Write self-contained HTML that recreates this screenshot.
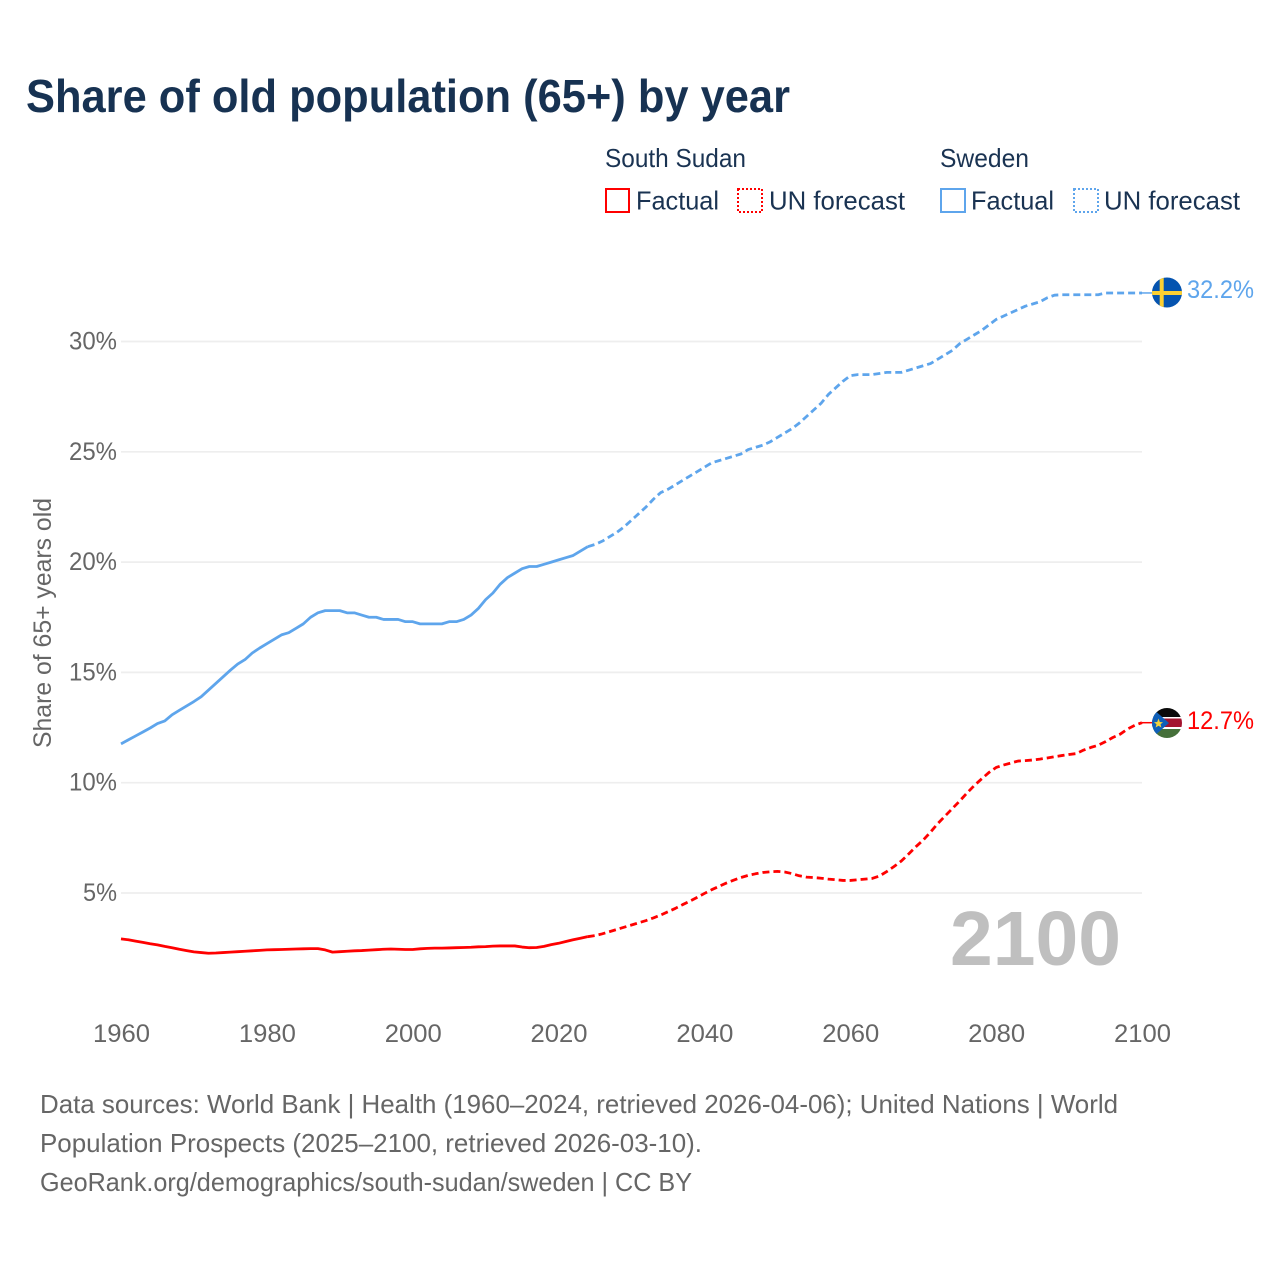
<!DOCTYPE html>
<html lang="en">
<head>
<meta charset="utf-8">
<title>Share of old population (65+) by year</title>
<style>
html,body{margin:0;padding:0;background:#fff;width:1280px;height:1280px;overflow:hidden}
svg{display:block}
text{font-family:"Liberation Sans",sans-serif}
.leg{font-size:26px;fill:#1a3352}
.src{font-size:26px;fill:#666}
.tick{font-size:25px;fill:#666}
</style>
</head>
<body>
<svg id="chart" width="1280" height="1280" viewBox="0 0 1280 1280" xmlns="http://www.w3.org/2000/svg">
  <defs>
    <clipPath id="clip-se"><circle cx="1167" cy="292.5" r="15"/></clipPath>
    <clipPath id="clip-ss"><circle cx="1167" cy="723" r="15"/></clipPath>
  </defs>
  <rect width="1280" height="1280" fill="#fff"/>
  <text x="26" y="112" font-size="46" font-weight="700" style="fill:#173252" textLength="764" lengthAdjust="spacingAndGlyphs">Share of old population (65+) by year</text>

  <g>
    <text class="leg" x="605" y="167" textLength="141" lengthAdjust="spacingAndGlyphs">South Sudan</text>
    <rect x="606" y="189" width="23" height="23" fill="none" stroke="#ff0000" stroke-width="2"/>
    <text class="leg" x="636" y="209.5" textLength="83" lengthAdjust="spacingAndGlyphs">Factual</text>
    <rect x="738" y="189" width="24" height="23" fill="none" stroke="#ff0000" stroke-width="2" stroke-dasharray="2 2"/>
    <text class="leg" x="769" y="209.5" textLength="136" lengthAdjust="spacingAndGlyphs">UN forecast</text>
    <text class="leg" x="940" y="167" textLength="89" lengthAdjust="spacingAndGlyphs">Sweden</text>
    <rect x="941" y="189" width="24" height="23" fill="none" stroke="#5ea5ec" stroke-width="2"/>
    <text class="leg" x="971" y="209.5" textLength="83" lengthAdjust="spacingAndGlyphs">Factual</text>
    <rect x="1074" y="189" width="24" height="23" fill="none" stroke="#5ea5ec" stroke-width="2" stroke-dasharray="2 2"/>
    <text class="leg" x="1104" y="209.5" textLength="136" lengthAdjust="spacingAndGlyphs">UN forecast</text>
  </g>

  <g id="grid"></g>
  <g id="yticks"></g>
  <g id="xticks"></g>
  <text transform="translate(51 623) rotate(-90)" text-anchor="middle" font-size="25" fill="#666" textLength="250" lengthAdjust="spacingAndGlyphs">Share of 65+ years old</text>

  <text x="950" y="965" font-size="77" font-weight="700" fill="#bfbfbf" textLength="171" lengthAdjust="spacingAndGlyphs">2100</text>

  <g id="series"></g>

  <g clip-path="url(#clip-se)">
    <rect x="1152" y="277" width="30" height="31" fill="#0554b0"/>
    <rect x="1159.7" y="277" width="4" height="31" fill="#fcd032"/>
    <rect x="1152" y="291" width="30" height="4" fill="#fcd032"/>
  </g>
  <g clip-path="url(#clip-ss)">
    <rect x="1152" y="708" width="30" height="30" fill="#fff"/>
    <rect x="1152" y="708" width="30" height="9" fill="#0a0a0a"/>
    <rect x="1152" y="718.5" width="30" height="8.5" fill="#a3142f"/>
    <rect x="1152" y="729" width="30" height="9" fill="#45703a"/>
    <polygon points="1152,708 1169,723 1152,738" fill="#0f5fb8"/>
    <polygon points="1158.5,718.5 1159.8,722 1163,722.3 1160.5,724.3 1161.4,727.5 1158.5,725.7 1155.6,727.5 1156.5,724.3 1154,722.3 1157.2,722" fill="#f4d23c"/>
  </g>
  <text x="1187" y="298" font-size="25" fill="#5ea5ec" textLength="67" lengthAdjust="spacingAndGlyphs">32.2%</text>
  <text x="1187" y="729" font-size="25" fill="#ff0000" textLength="67" lengthAdjust="spacingAndGlyphs">12.7%</text>

  <g>
    <text class="src" x="40" y="1113" textLength="1078" lengthAdjust="spacingAndGlyphs">Data sources: World Bank | Health (1960–2024, retrieved 2026-04-06); United Nations | World</text>
    <text class="src" x="40" y="1152" textLength="662" lengthAdjust="spacingAndGlyphs">Population Prospects (2025–2100, retrieved 2026-03-10).</text>
    <text class="src" x="40" y="1191" textLength="652" lengthAdjust="spacingAndGlyphs">GeoRank.org/demographics/south-sudan/sweden | CC BY</text>
  </g>
</svg>
<script>
const xTickYears = [1960, 1980, 2000, 2020, 2040, 2060, 2080, 2100];
const yTickValues = [5, 10, 15, 20, 25, 30];
const factualStartYear = 1960;
const forecastStartYear = 2024;
const swedenFactual = [11.76,11.94,12.12,12.3,12.48,12.68,12.8,13.08,13.28,13.48,13.68,13.9,14.2,14.5,14.8,15.1,15.38,15.58,15.88,16.1,16.3,16.5,16.7,16.8,17.0,17.2,17.5,17.7,17.8,17.8,17.8,17.7,17.7,17.6,17.5,17.5,17.4,17.4,17.4,17.3,17.3,17.2,17.2,17.2,17.2,17.3,17.3,17.4,17.6,17.9,18.3,18.6,19.0,19.3,19.5,19.7,19.8,19.8,19.9,20.0,20.1,20.2,20.3,20.5,20.7];
const swedenForecast = [20.7,20.8,20.95,21.15,21.35,21.6,21.9,22.2,22.5,22.85,23.15,23.3,23.5,23.7,23.9,24.1,24.3,24.5,24.6,24.7,24.8,24.9,25.1,25.2,25.3,25.45,25.65,25.85,26.05,26.3,26.6,26.9,27.2,27.6,27.9,28.2,28.45,28.5,28.5,28.5,28.55,28.6,28.6,28.6,28.7,28.8,28.9,29.0,29.2,29.4,29.6,29.9,30.1,30.3,30.5,30.75,31.0,31.15,31.3,31.45,31.6,31.7,31.8,31.98,32.1,32.12,32.12,32.12,32.12,32.12,32.12,32.2,32.2,32.2,32.2,32.2,32.2];
const southSudanFactual = [2.92,2.88,2.82,2.76,2.7,2.65,2.58,2.52,2.45,2.39,2.33,2.3,2.27,2.28,2.3,2.32,2.34,2.36,2.38,2.4,2.42,2.43,2.44,2.45,2.46,2.47,2.48,2.48,2.42,2.32,2.34,2.36,2.38,2.39,2.41,2.43,2.45,2.46,2.45,2.44,2.44,2.47,2.49,2.5,2.5,2.51,2.52,2.53,2.54,2.56,2.57,2.59,2.6,2.6,2.6,2.55,2.52,2.53,2.58,2.66,2.72,2.8,2.88,2.95,3.02];
const southSudanForecast = [3.02,3.07,3.15,3.25,3.35,3.45,3.55,3.65,3.75,3.87,4.0,4.15,4.3,4.47,4.63,4.8,4.98,5.15,5.3,5.45,5.58,5.7,5.8,5.87,5.93,5.96,5.98,5.95,5.88,5.78,5.72,5.7,5.67,5.63,5.6,5.57,5.57,5.6,5.63,5.66,5.77,5.97,6.2,6.45,6.77,7.1,7.4,7.76,8.15,8.49,8.83,9.17,9.53,9.87,10.17,10.46,10.69,10.8,10.89,10.98,11.0,11.03,11.07,11.12,11.18,11.23,11.28,11.32,11.48,11.6,11.7,11.86,12.05,12.2,12.43,12.6,12.72];

const SVG_NS = 'http://www.w3.org/2000/svg';
function xScale(year) { return 121 + (year - 1960) * (1142 - 121) / 140; }
function yScale(value) { return 893 - (value - 5) * 22.06; }
function make(tag, attrs, parent) {
  const el = document.createElementNS(SVG_NS, tag);
  for (const k in attrs) el.setAttribute(k, attrs[k]);
  parent.appendChild(el);
  return el;
}
function linePath(values, startYear) {
  return values.map(function (v, i) {
    return (i ? 'L' : 'M') + xScale(startYear + i).toFixed(2) + ' ' + yScale(v).toFixed(2);
  }).join('');
}

const gridGroup = document.getElementById('grid');
const yGroup = document.getElementById('yticks');
const xGroup = document.getElementById('xticks');
const seriesGroup = document.getElementById('series');

yTickValues.forEach(function (v) {
  const line = make('line', { x1: 121, x2: 1142, y1: yScale(v), y2: yScale(v), stroke: '#eeeeee', 'stroke-width': 1.7 }, gridGroup);
  
  
  const label = v + '%';
  const t = make('text', { class: 'tick', x: 117, y: yScale(v) + 8, 'text-anchor': 'end', textLength: 14 * String(v).length + 20, lengthAdjust: 'spacingAndGlyphs' }, yGroup);
  
  
  t.textContent = label;
});

xTickYears.forEach(function (y) {
  const t = make('text', { class: 'tick', x: xScale(y) + 0.5, y: 1042, 'text-anchor': 'middle', textLength: 57, lengthAdjust: 'spacingAndGlyphs' }, xGroup);
  
  
  t.textContent = y;
});

const swedenFactualLine = make('path', { d: linePath(swedenFactual, factualStartYear), fill: 'none', stroke: '#5ea5ec', 'stroke-width': 2.8, 'stroke-linejoin': 'round' }, seriesGroup);



const swedenForecastLine = make('path', { d: linePath(swedenForecast, forecastStartYear), fill: 'none', stroke: '#5ea5ec', 'stroke-width': 2.8, 'stroke-dasharray': '7 4', 'stroke-linejoin': 'round' }, seriesGroup);



const southSudanFactualLine = make('path', { d: linePath(southSudanFactual, factualStartYear), fill: 'none', stroke: '#ff0000', 'stroke-width': 2.8, 'stroke-linejoin': 'round' }, seriesGroup);



const southSudanForecastLine = make('path', { d: linePath(southSudanForecast, forecastStartYear), fill: 'none', stroke: '#ff0000', 'stroke-width': 2.8, 'stroke-dasharray': '7 4', 'stroke-linejoin': 'round' }, seriesGroup);



const swedenConnector = make('line', { x1: xScale(2100), x2: 1154, y1: yScale(swedenForecast[swedenForecast.length - 1]), y2: yScale(swedenForecast[swedenForecast.length - 1]), stroke: '#5ea5ec', 'stroke-width': 1.5 }, seriesGroup);



const southSudanConnector = make('line', { x1: xScale(2100), x2: 1154, y1: yScale(southSudanForecast[southSudanForecast.length - 1]), y2: yScale(southSudanForecast[southSudanForecast.length - 1]), stroke: '#ff0000', 'stroke-width': 1.5 }, seriesGroup);


</script>
</body>
</html>
